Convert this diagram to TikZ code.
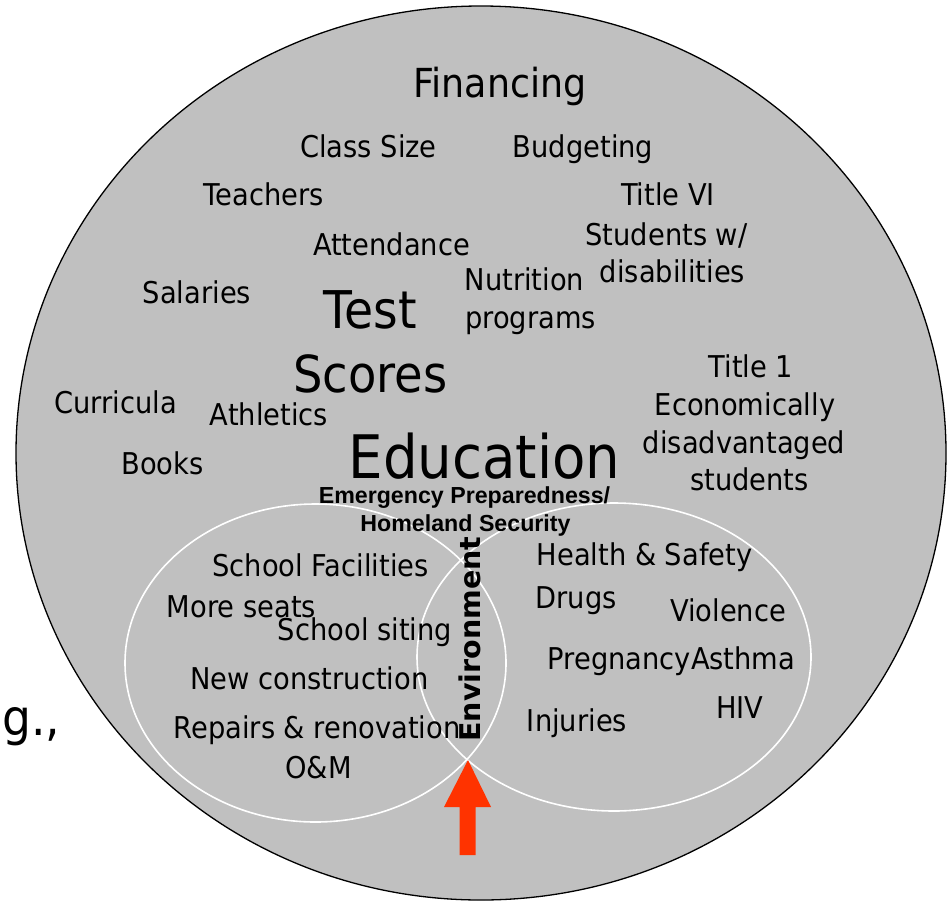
\documentclass[tikz,border=0pt]{standalone}
\usepackage{fontspec}
\setmainfont{DejaVu Sans}[FakeStretch=0.91]
\newfontfamily\libsans{Liberation Sans}
\newfontfamily\dvbold{DejaVu Sans}
\newcommand\myfs[1]{\fontsize{#1}{#1}\selectfont}
\definecolor{bggray}{HTML}{C0C0C0}
\definecolor{arrowred}{HTML}{FF3300}
\tikzset{
  txt/.style={inner sep=0pt, anchor=base, text=black, font=\myfs{30}},
  bigtxt/.style={txt, font=\myfs{#1}},
  boldtxt/.style={inner sep=0pt, anchor=base, text=black, font=\libsans\bfseries\myfs{23.2}},
  ring/.style={draw=white, line width=1.6pt},
}
\begin{document}
\begin{tikzpicture}[x=1pt, y=-1pt]
\useasboundingbox (0,0) rectangle (952,900);
% main circle
\draw[fill=bggray, draw=black, line width=1.3pt] (481,453) ellipse [x radius=465, y radius=447];
% inner circles
\draw[ring] (315.5,663) ellipse [x radius=190.5, y radius=159];
\draw[ring] (614,657) ellipse [x radius=197, y radius=154];
% red arrow
\coordinate (tip) at (468,760);
\fill[arrowred] (tip) -- (491,807) -- (475.5,807) -- (475.5,855) -- (459.5,855) -- (459.5,807) -- (444,807) -- cycle;
% texts
\node[bigtxt=40] (fin) at (500,97) {Financing};
\node[txt] (cls) at (368.5,157) {Class Size};
\node[txt] (bud) at (583,157) {Budgeting};
\node[txt] (tea) at (263.5,205) {Teachers};
\node[txt] (t6) at (668,205) {Title VI};
\node[txt] (sw) at (666.5,245) {Students w/};
\node[txt] (dis) at (672.5,282) {disabilities};
\node[txt] (att) at (391.5,255) {Attendance};
\node[txt] (nut) at (524.5,290) {Nutrition};
\node[txt] (prg) at (530.5,328) {programs};
\node[txt] (sal) at (197,303) {Salaries};
\node[bigtxt=52] (test) at (370.5,328) {Test};
\node[bigtxt=51] (scr) at (370.5,392) {Scores};
\node[txt] (cur) at (115.5,413) {Curricula};
\node[txt] (ath) at (269,425) {Athletics};
\node[txt] (bks) at (162.5,474) {Books};
\node[bigtxt=60] (edu) at (484.5,478) {Education};
\node[txt] (t1) at (751,377) {Title 1};
\node[txt] (eco) at (745,415) {Economically};
\node[txt] (dsa) at (744,453) {disadvantaged};
\node[txt] (stu) at (749.5,490) {students};
\node[boldtxt] (emp) at (464.5,503) {Emergency Preparedness/};
\node[boldtxt] (hom) at (465.5,531) {Homeland Security};
\node[txt] (sf) at (320.5,576) {School Facilities};
\node[txt] (ms) at (241.5,617) {More seats};
\node[txt] (ss) at (365,640) {School siting};
\node[txt] (nc) at (309.5,689) {New construction};
\node[txt] (rr) at (317,738) {Repairs \& renovation};
\node[txt] (om) at (318.5,778) {O\&M};
\node[txt] (hs) at (644.5,565) {Health \& Safety};
\node[txt] (drg) at (576,608) {Drugs};
\node[txt] (vio) at (728,621) {Violence};
\node[txt] (pa) at (671.5,669) {PregnancyAsthma};
\node[txt] (hiv) at (740,718) {HIV};
\node[txt] (inj) at (577,731) {Injuries};
\node[inner sep=0pt, rotate=90, text=black, font=\dvbold\bfseries\myfs{28.5}] (env) at (470,639) {Environment};
\node[inner sep=0pt, anchor=base west, text=black, font=\myfs{50}] (eg) at (2,735) {g.,};
\end{tikzpicture}
\end{document}
